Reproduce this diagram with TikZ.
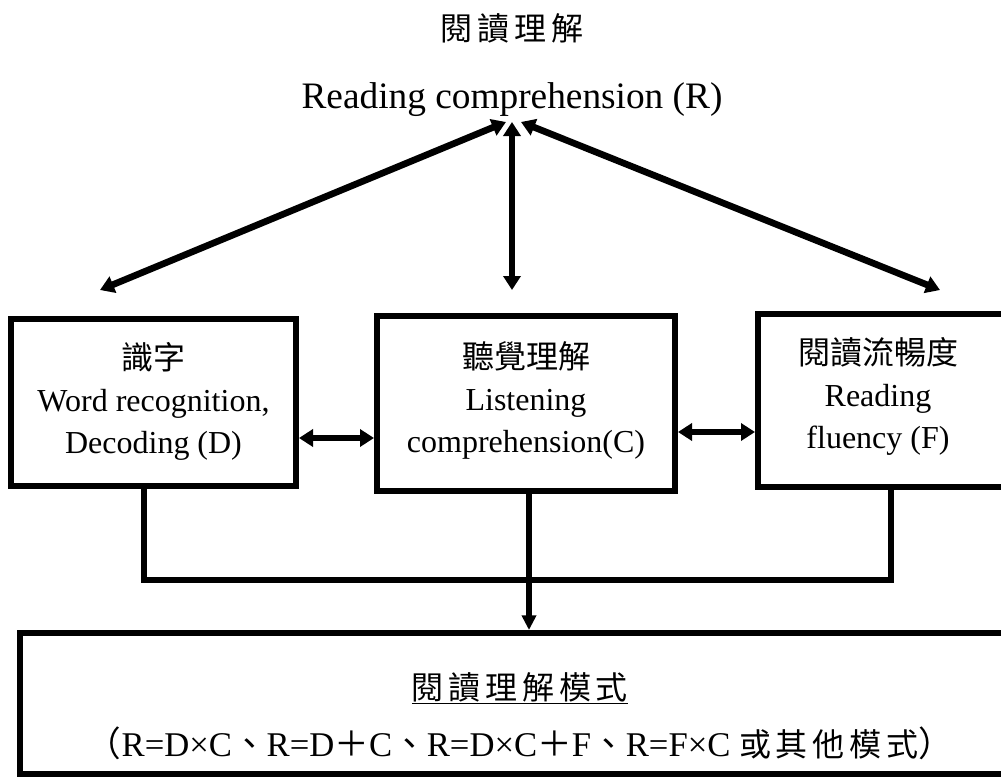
\documentclass[tikz,border=0pt]{standalone}
\usepackage{fontspec}
\setmainfont{Liberation Serif}
\newfontfamily\cjk{Noto Sans CJK TC}
\newfontfamily\cjkw[LetterSpace=15]{Noto Sans CJK TC}
\usetikzlibrary{arrows.meta}

\tikzset{
  box/.style={draw, line width=4.5pt, inner sep=0pt},
  txt/.style={align=center, inner sep=0pt, font=\fontsize{24}{31.5}\selectfont},
  link/.style={line width=4pt},
  dbl/.style={line width=3.8pt, {Triangle[length=10.5pt,width=12.75pt]}-{Triangle[length=10.5pt,width=12.75pt]}},
}

\begin{document}
\begin{tikzpicture}[x=0.75pt,y=-0.75pt]
\useasboundingbox (0,0) rectangle (1001,778);
\clip (0,0) rectangle (1001,778);
\node[txt, font=\cjkw\fontsize{24}{30}\selectfont] (title) at (512,28) {閱讀理解};
\node[txt, font=\fontsize{28}{32}\selectfont] (R) at (512,100) {Reading comprehension (R)};
% three parts
\node[box, minimum width=213.75pt, minimum height=125.25pt] (D) at (153.5,402.5) {};
\node[txt] (Dt) at (153.5,401) {{\cjk 識字}\\Word recognition,\\Decoding (D)};
\node[box, minimum width=223.5pt, minimum height=131.25pt] (C) at (526,403.5) {};
\node[txt] (Ct) at (526,400) {{\cjk 聽覺理解}\\Listening\\comprehension(C)};
\node[box, anchor=west, minimum width=300pt, minimum height=129.75pt] (F) at (755,400.5) {};
\node[txt] (Ft) at (878,396) {{\cjk 閱讀流暢度}\\Reading\\fluency (F)};
% model box
\node[box, minimum width=750pt, minimum height=105.75pt] (M) at (520,703.5) {};
\node[txt, font=\fontsize{26}{43}\selectfont] (Mt) at (520,716) {\underline{\cjkw\fontsize{24}{43}\selectfont 閱讀理解模式}\\{\cjk（}R=D×C{\cjk 、}R=D{\cjk ＋}C{\cjk 、}R=D×C{\cjk ＋}F{\cjk 、}R=F×C {\cjkw\fontsize{24}{43}\selectfont 或其他模式}{\cjk ）}};

\coordinate (rL) at (506,122);
\coordinate (rM) at (512,122);
\coordinate (rR) at (521,122);
\coordinate (eL) at (100,290);
\coordinate (eM) at (512,290);
\coordinate (eR) at (940,290);
\draw[dbl, line width=5pt] (rL) -- (eL);
\draw[dbl] (rM) -- (eM);
\draw[dbl, line width=5pt] (rR) -- (eR);

\coordinate (hDC) at (0,438);
\coordinate (hCF) at (0,432);
\draw[dbl] (D.east |- hDC) -- (C.west |- hDC);
\draw[dbl] (C.east |- hCF) -- (F.west |- hCF);

\coordinate (jL) at (144,580);
\coordinate (jM) at (529,580);
\coordinate (jR) at (891,580);
\draw[link] (jL |- D.south) -- (jL) -- (jR) -- (jR |- F.south);
\draw[link, -{Triangle[length=11pt,width=10.5pt]}] (jM |- C.south) -- (jM |- M.north);
\end{tikzpicture}
\end{document}
